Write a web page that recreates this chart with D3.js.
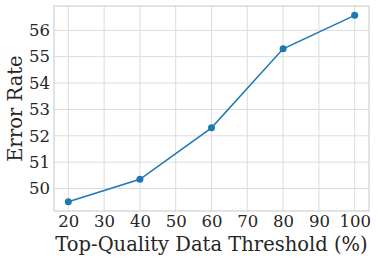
<!DOCTYPE html>
<html>
<head>
<meta charset="utf-8">
<script src="https://cdn.jsdelivr.net/npm/d3@7"></script>
<style>
  body { margin: 0; background: #fff; }
  svg { display: block; font-family: "DejaVu Serif", serif; }
</style>
</head>
<body>
<div id="chartArea"></div>
<script>
// data
var thresholds = [20, 40, 60, 80, 100];
var errorRates = [49.5, 50.35, 52.3, 55.3, 56.57];
var xTicks = [20, 30, 40, 50, 60, 70, 80, 90, 100];
var yTicks = [50, 51, 52, 53, 54, 55, 56];

var width = 378, height = 261;
var margin = {top: 6, right: 9, bottom: 50, left: 54};
var w = width - margin.left - margin.right;
var h = height - margin.top - margin.bottom;

// matplotlib style 5% padding on both axes
var xmin = d3.min(thresholds), xmax = d3.max(thresholds);
var ymin = d3.min(errorRates), ymax = d3.max(errorRates);
var xpad = (xmax - xmin) * 0.05, ypad = (ymax - ymin) * 0.05;

var xscale = d3.scaleLinear().domain([xmin - xpad, xmax + xpad]).range([0, w]);
var yscale = d3.scaleLinear().domain([ymin - ypad, ymax + ypad]).range([h, 0]);

var svg = d3.select('#chartArea').append('svg')
    .attr('width', width)
    .attr('height', height);

var g = svg.append('g')
    .attr('transform', 'translate(' + margin.left + ',' + margin.top + ')');

// grid
g.selectAll('line.vgrid').data(xTicks).enter().append('line')
    .attr('x1', function(d){ return xscale(d); })
    .attr('x2', function(d){ return xscale(d); })
    .attr('y1', 0).attr('y2', h)
    .attr('stroke', '#dcdcdc').attr('stroke-width', 1);
g.selectAll('line.hgrid').data(yTicks).enter().append('line')
    .attr('y1', function(d){ return yscale(d); })
    .attr('y2', function(d){ return yscale(d); })
    .attr('x1', 0).attr('x2', w)
    .attr('stroke', '#dcdcdc').attr('stroke-width', 1);

// frame
g.append('rect')
    .attr('x', 0).attr('y', 0).attr('width', w).attr('height', h)
    .attr('fill', 'none').attr('stroke', '#cccccc').attr('stroke-width', 1.1);

// axes (labels only, no tick marks)
var xAxis = g.append('g')
    .attr('transform', 'translate(0,' + h + ')')
    .call(d3.axisBottom(xscale).tickValues(xTicks).tickSize(0).tickPadding(4));
var yAxis = g.append('g')
    .call(d3.axisLeft(yscale).tickValues(yTicks).tickSize(0).tickPadding(4));
[xAxis, yAxis].forEach(function(a) {
    a.select('.domain').remove();
    a.selectAll('text')
        .style('font-family', '"DejaVu Serif", serif')
        .style('font-size', '16.5px')
        .attr('fill', '#262626');
});

// line + markers
var line = d3.line()
    .x(function(d, i){ return xscale(thresholds[i]); })
    .y(function(d){ return yscale(d); });
g.append('path').datum(errorRates)
    .attr('d', line)
    .attr('fill', 'none')
    .attr('stroke', '#1f77b4')
    .attr('stroke-width', 1.5);
g.selectAll('circle').data(errorRates).enter().append('circle')
    .attr('cx', function(d, i){ return xscale(thresholds[i]); })
    .attr('cy', function(d){ return yscale(d); })
    .attr('r', 3.5)
    .attr('fill', '#1f77b4');

// axis titles
svg.append('text')
    .attr('x', margin.left + w / 2)
    .attr('y', 251)
    .attr('text-anchor', 'middle')
    .style('font-size', '19.5px')
    .attr('fill', '#262626')
    .text('Top-Quality Data Threshold (%)');
svg.append('text')
    .attr('transform', 'translate(22,' + (margin.top + h / 2) + ') rotate(-90)')
    .attr('text-anchor', 'middle')
    .style('font-size', '19.5px')
    .attr('fill', '#262626')
    .text('Error Rate');
</script>
</body>
</html>
